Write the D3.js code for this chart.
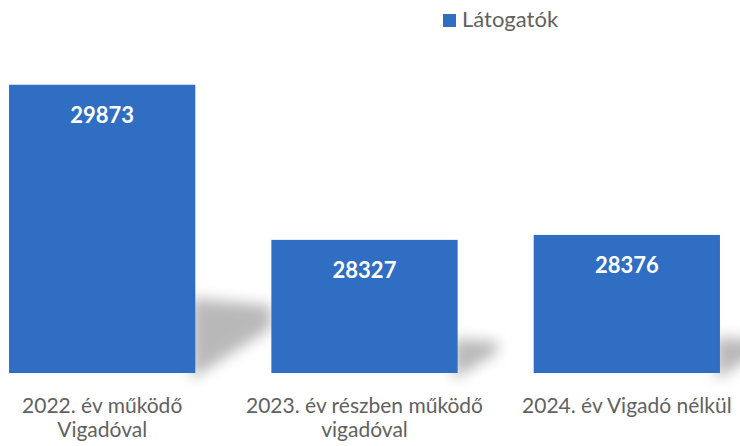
<!DOCTYPE html>
<html>
<head>
<meta charset="utf-8">
<script src="https://cdn.jsdelivr.net/npm/d3@7"></script>
<style>
  html, body { margin: 0; padding: 0; background: #fff; }
  svg { display: block; font-family: Lato, "Open Sans", sans-serif; }
</style>
</head>
<body>
<div id="chart"></div>
<script>
// data
const categories = ["2022", "2023", "2024"];
const categoryLines = [
  ["2022. év működő", "Vigadóval"],
  ["2023. év részben működő", "vigadóval"],
  ["2024. év Vigadó nélkül"]
];
const visitors = [29873, 28327, 28376];
const seriesName = "Látogatók";
const yDomain = [27000, 30000];

const width = 740, height = 446;
const barColor = "#2f6ec3";
const textColor = "#616161";

const svg = d3.select("#chart").append("svg")
  .attr("width", width)
  .attr("height", height);

const defs = svg.append("defs");
defs.append("filter").attr("id", "soft")
  .attr("x", "-50%").attr("y", "-50%").attr("width", "200%").attr("height", "200%")
  .append("feGaussianBlur").attr("stdDeviation", 7);

const x = d3.scaleBand()
  .domain(categories)
  .range([-29, 758])
  .paddingInner(0.29)
  .paddingOuter(0.145);

const y = d3.scaleLinear()
  .domain(yDomain)
  .range([373, 72]);

const data = categories.map((c, i) => ({ cat: c, value: visitors[i], lines: categoryLines[i] }));

// soft shadows to the right of each bar
svg.append("g").selectAll("path")
  .data(data)
  .enter().append("path")
  .attr("d", d => {
    const xr = x(d.cat) + x.bandwidth();
    const b = y.range()[0];
    const h = b - y(d.value);
    const sh = h * 0.26;
    const sw = Math.min(76, h * 0.3);
    return "M" + (xr - 4) + "," + (b - sh) +
      "L" + (xr + sw) + "," + (b - sh * 0.9) +
      "L" + (xr + sw) + "," + (b - sh * 0.6) +
      "L" + (xr - 4) + "," + (b + 6) + "Z";
  })
  .attr("fill", "#8a8a8a")
  .attr("opacity", 0.6)
  .attr("filter", "url(#soft)");

// bars
svg.append("g").selectAll("rect")
  .data(data)
  .enter().append("rect")
  .attr("x", d => x(d.cat))
  .attr("width", x.bandwidth())
  .attr("y", d => y(d.value))
  .attr("height", d => y.range()[0] - y(d.value))
  .attr("fill", barColor);

// value labels
svg.append("g").selectAll("text")
  .data(data)
  .enter().append("text")
  .attr("x", d => x(d.cat) + x.bandwidth() / 2)
  .attr("y", d => y(d.value) + 38)
  .attr("text-anchor", "middle")
  .attr("fill", "#fff")
  .attr("font-weight", "bold")
  .attr("font-size", 22)
  .text(d => d.value);

// category axis
const xAxis = svg.append("g")
  .attr("transform", "translate(0," + y.range()[0] + ")")
  .call(d3.axisBottom(x).tickSize(0).tickPadding(0));
xAxis.select(".domain").remove();
xAxis.selectAll(".tick text").each(function (c, i) {
  const t = d3.select(this)
    .text(null)
    .attr("y", 40)
    .attr("dy", null)
    .attr("fill", textColor)
    .attr("font-size", 21)
    .attr("font-family", "Lato, 'Open Sans', sans-serif");
  categoryLines[i].forEach((line, j) => {
    t.append("tspan").attr("x", 0).attr("dy", j === 0 ? 0 : 24).text(line);
  });
});

// legend
const legend = svg.append("g").attr("transform", "translate(443,14)");
legend.append("rect").attr("width", 13).attr("height", 13).attr("fill", barColor);
legend.append("text")
  .attr("x", 19).attr("y", 13)
  .attr("fill", textColor)
  .attr("font-size", 22)
  .text(seriesName);
</script>
</body>
</html>
